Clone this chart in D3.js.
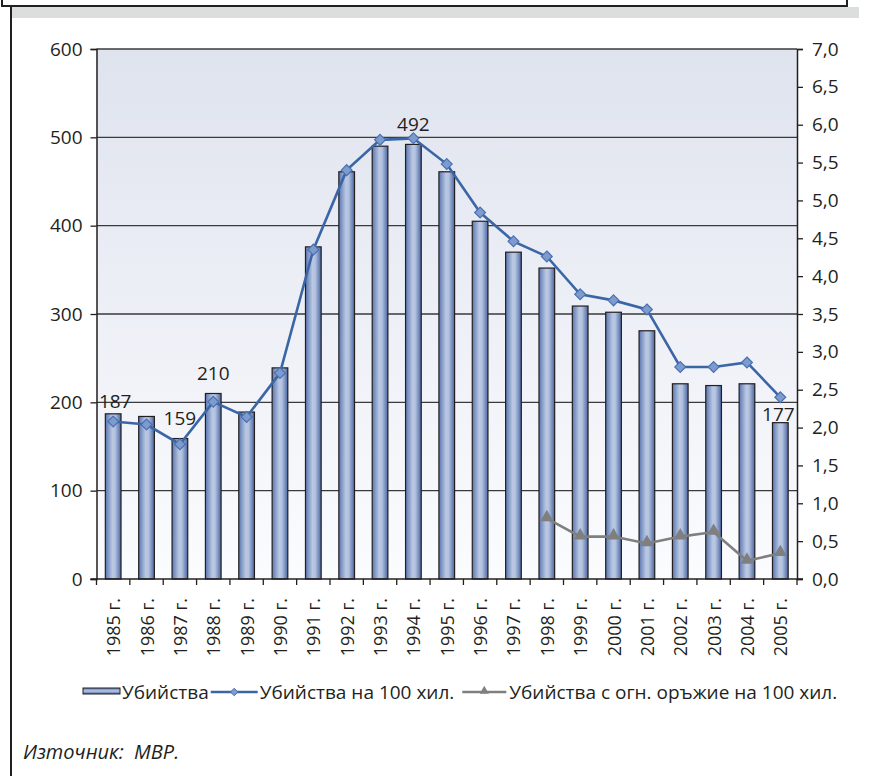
<!DOCTYPE html>
<html>
<head>
<meta charset="utf-8">
<script src="https://cdn.jsdelivr.net/npm/d3@7"></script>
<style>
  html, body { margin: 0; padding: 0; background: #fff; }
  svg text { font-family: "Open Sans", "Noto Sans", sans-serif; fill: #231f20; }
</style>
</head>
<body>
<div id="chart"></div>
<script>
// chart data
const years = ["1985", "1986", "1987", "1988", "1989", "1990", "1991", "1992", "1993", "1994", "1995",
  "1996", "1997", "1998", "1999", "2000", "2001", "2002", "2003", "2004", "2005"];
const murders = [187, 184, 159, 210, 189, 239, 376, 461, 490, 492, 461, 405, 370, 352, 309, 302, 281, 221, 219, 221, 177];
const murdersPer100k = [2.08, 2.04, 1.78, 2.34, 2.14, 2.72, 4.35, 5.40, 5.80, 5.82, 5.48, 4.84, 4.46, 4.26, 3.76, 3.68, 3.56, 2.80, 2.80, 2.86, 2.40];
const firearmYears = ["1998", "1999", "2000", "2001", "2002", "2003", "2004", "2005"];
const firearmPer100k = [0.80, 0.56, 0.56, 0.47, 0.56, 0.62, 0.24, 0.34];
const labelledYears = ["1985", "1987", "1988", "1994", "2005"];
const leftTicks = [0, 100, 200, 300, 400, 500, 600];
const rightTicks = [0, 0.5, 1, 1.5, 2, 2.5, 3, 3.5, 4, 4.5, 5, 5.5, 6, 6.5, 7];
const seriesNames = ["Убийства", "Убийства на 100 хил.", "Убийства с огн. оръжие на 100 хил."];
const sourceText = "Източник:\u00a0 МВР.";

const width = 888, height = 776;
const margin = { top: 49, right: 91, bottom: 197, left: 96.5 };
const chartWidth = width - margin.left - margin.right;
const chartHeight = height - margin.top - margin.bottom;
const fontSize = 19;

const svg = d3.select("#chart").append("svg")
  .attr("width", width)
  .attr("height", height);

const defs = svg.append("defs");

const bg = defs.append("linearGradient")
  .attr("id", "plot-bg")
  .attr("x1", 0).attr("y1", 0).attr("x2", 0).attr("y2", 1);
bg.append("stop").attr("offset", "0%").attr("stop-color", "#dfe3ee");
bg.append("stop").attr("offset", "100%").attr("stop-color", "#fbfcfe");

const barGrad = defs.append("linearGradient")
  .attr("id", "bar-grad")
  .attr("x1", 0).attr("y1", 0).attr("x2", 1).attr("y2", 0);
[["0%", "#5a77b1"], ["45%", "#bac8e3"], ["62%", "#b3c2df"], ["100%", "#4a66a3"]].forEach(s =>
  barGrad.append("stop").attr("offset", s[0]).attr("stop-color", s[1]));

const swatchGrad = defs.append("linearGradient")
  .attr("id", "swatch-grad")
  .attr("x1", 0).attr("y1", 0).attr("x2", 0).attr("y2", 1);
[["0%", "#5a77b1"], ["50%", "#bac8e3"], ["100%", "#4a66a3"]].forEach(s =>
  swatchGrad.append("stop").attr("offset", s[0]).attr("stop-color", s[1]));

// page frame pieces at the top and left
svg.append("rect").attr("x", 10).attr("y", 7).attr("width", 849).attr("height", 11).attr("fill", "#dcdddd");
svg.append("rect").attr("x", 2).attr("y", -4).attr("width", 845).attr("height", 10)
  .attr("fill", "#fff").attr("stroke", "#231f20").attr("stroke-width", 2);
svg.append("line").attr("x1", 11).attr("x2", 11).attr("y1", 6).attr("y2", height)
  .attr("stroke", "#231f20").attr("stroke-width", 2);

const g = svg.append("g").attr("transform", `translate(${margin.left},${margin.top})`);

const x = d3.scaleBand().domain(years).range([0, chartWidth]).paddingInner(0).paddingOuter(0);
const yLeft = d3.scaleLinear().domain([0, 600]).range([chartHeight, 0]);
const yRight = d3.scaleLinear().domain([0, 7]).range([chartHeight, 0]);

g.append("rect").attr("width", chartWidth).attr("height", chartHeight).attr("fill", "url(#plot-bg)");

// gridlines
g.append("g").selectAll("line").data(leftTicks.slice(1)).join("line")
  .attr("x1", 0).attr("x2", chartWidth)
  .attr("y1", d => yLeft(d)).attr("y2", d => yLeft(d))
  .attr("stroke", "#3a3a3a").attr("stroke-width", 1.4);

// bars
const barW = x.bandwidth() * 0.47;
g.append("g").selectAll("rect").data(years).join("rect")
  .attr("x", (d, i) => x(d) + (x.bandwidth() - barW) / 2)
  .attr("y", (d, i) => yLeft(murders[i]))
  .attr("width", barW)
  .attr("height", (d, i) => chartHeight - yLeft(murders[i]))
  .attr("fill", "url(#bar-grad)")
  .attr("stroke", "#231f20").attr("stroke-width", 1.2);

// axes
const fmtComma = d => d3.format(".1f")(d).replace(".", ",");

const leftAxis = g.append("g")
  .call(d3.axisLeft(yLeft).tickValues(leftTicks).tickSize(6).tickPadding(8));
const rightAxis = g.append("g")
  .attr("transform", `translate(${chartWidth},0)`)
  .call(d3.axisRight(yRight).tickValues(rightTicks).tickFormat(fmtComma).tickSize(6).tickPadding(9));
[leftAxis, rightAxis].forEach(a => {
  a.select(".domain").attr("stroke", "#231f20").attr("stroke-width", 1.5);
  a.selectAll(".tick line").attr("stroke", "#231f20").attr("stroke-width", 1.3);
  a.selectAll(".tick text").attr("font-size", fontSize).attr("fill", "#231f20")
    .attr("font-family", "Open Sans");
});

// bottom axis: ticks between categories, labels rotated
const xAxis = g.append("g").attr("transform", `translate(0,${chartHeight})`);
xAxis.append("line").attr("x1", -6).attr("x2", chartWidth + 6)
  .attr("stroke", "#231f20").attr("stroke-width", 1.5);
xAxis.selectAll(".xtick").data(years.concat(["end"])).join("line")
  .attr("class", "xtick")
  .attr("x1", (d, i) => i * x.step()).attr("x2", (d, i) => i * x.step())
  .attr("y1", 0).attr("y2", 6)
  .attr("stroke", "#231f20").attr("stroke-width", 1.3);
xAxis.selectAll(".xlabel").data(years).join("text")
  .attr("class", "xlabel")
  .attr("transform", d => `translate(${x(d) + x.bandwidth() / 2 + 7},19) rotate(-90)`)
  .attr("text-anchor", "end")
  .attr("font-size", 18)
  .text(d => d + " г.");

// murders per 100k line
const blue = "#3b66a6";
g.append("path")
  .datum(murdersPer100k)
  .attr("fill", "none").attr("stroke", blue).attr("stroke-width", 2.6)
  .attr("d", d3.line().x((d, i) => x(years[i]) + x.bandwidth() / 2).y(d => yRight(d)));
g.append("g").selectAll("path").data(murdersPer100k).join("path")
  .attr("transform", (d, i) => `translate(${x(years[i]) + x.bandwidth() / 2},${yRight(d)})`)
  .attr("d", d3.symbol(d3.symbolDiamond2, 75))
  .attr("fill", "#7d9bcd").attr("stroke", "#4a70b2").attr("stroke-width", 1.2);

// firearm murders per 100k line
const grey = "#7f7f7f";
g.append("path")
  .datum(firearmPer100k)
  .attr("fill", "none").attr("stroke", grey).attr("stroke-width", 2.6)
  .attr("d", d3.line().x((d, i) => x(firearmYears[i]) + x.bandwidth() / 2).y(d => yRight(d)));
g.append("g").selectAll("path").data(firearmPer100k).join("path")
  .attr("transform", (d, i) => `translate(${x(firearmYears[i]) + x.bandwidth() / 2},${yRight(d) - 1})`)
  .attr("d", d3.symbol(d3.symbolTriangle, 75))
  .attr("fill", grey);

// value labels above selected bars
const labelNudge = { "1985": [2, -6], "2005": [-2, -2] };
g.append("g").selectAll("text").data(labelledYears).join("text")
  .attr("x", d => x(d) + x.bandwidth() / 2 + (labelNudge[d] ? labelNudge[d][0] : 0))
  .attr("y", d => yLeft(murders[years.indexOf(d)]) + (labelNudge[d] ? labelNudge[d][1] : -13.5))
  .attr("text-anchor", "middle")
  .attr("font-size", fontSize)
  .text(d => murders[years.indexOf(d)]);

// legend
const legend = svg.append("g").attr("transform", "translate(83,699)");
let lx = 0;
legend.append("rect").attr("x", lx).attr("y", -11).attr("width", 37).attr("height", 6)
  .attr("fill", "url(#swatch-grad)").attr("stroke", "#231f20").attr("stroke-width", 1);
lx += 39;
const addText = (label) => {
  const t = legend.append("text").attr("x", lx).attr("y", 0).attr("font-size", fontSize).text(label);
  lx += t.node().getComputedTextLength();
};
addText(seriesNames[0]);
lx += 2;
legend.append("line").attr("x1", lx).attr("x2", lx + 47).attr("y1", -7).attr("y2", -7)
  .attr("stroke", blue).attr("stroke-width", 2.4);
legend.append("path").attr("transform", `translate(${lx + 23.5},-7)`)
  .attr("d", d3.symbol(d3.symbolDiamond2, 36)).attr("fill", "#7d9bcd").attr("stroke", "#4a70b2");
lx += 49;
addText(seriesNames[1]);
lx += 8;
legend.append("line").attr("x1", lx).attr("x2", lx + 44).attr("y1", -7).attr("y2", -7)
  .attr("stroke", grey).attr("stroke-width", 2.4);
legend.append("path").attr("transform", `translate(${lx + 22},-8)`)
  .attr("d", d3.symbol(d3.symbolTriangle, 36)).attr("fill", grey);
lx += 47;
addText(seriesNames[2]);

// source note
svg.append("text")
  .attr("x", 23).attr("y", 759)
  .attr("font-size", 20)
  .attr("font-style", "italic")
  .text(sourceText);
</script>
</body>
</html>
